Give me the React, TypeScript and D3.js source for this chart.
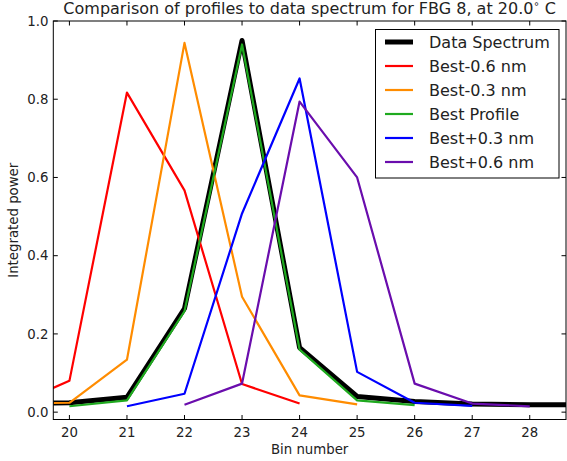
import React from "react";
import * as d3 from "d3";

const bins = [19, 20, 21, 22, 23, 24, 25, 26, 27, 28, 29];
const dataSpectrum = [0.022, 0.024, 0.038, 0.265, 0.95, 0.165, 0.04, 0.027, 0.021, 0.019, 0.019];

const bestMinus06X = [19, 20, 21, 22, 23, 24];
const bestMinus06 = [0.016, 0.08, 0.817, 0.567, 0.072, 0.022];

const bestMinus03X = [19, 20, 21, 22, 23, 24, 25];
const bestMinus03 = [0.022, 0.024, 0.134, 0.944, 0.295, 0.043, 0.02];

const bestProfileX = [20, 21, 22, 23, 24, 25, 26];
const bestProfile = [0.015, 0.03, 0.258, 0.94, 0.16, 0.03, 0.018];

const bestPlus03X = [21, 22, 23, 24, 25, 26, 27];
const bestPlus03 = [0.015, 0.047, 0.508, 0.853, 0.103, 0.024, 0.016];

const bestPlus06X = [22, 23, 24, 25, 26, 27, 28];
const bestPlus06 = [0.019, 0.073, 0.794, 0.6, 0.073, 0.022, 0.015];

const xTicks = [20, 21, 22, 23, 24, 25, 26, 27, 28];
const yTicks = [0.0, 0.2, 0.4, 0.6, 0.8, 1.0];

const legendLabels = ["Data Spectrum", "Best-0.6 nm", "Best-0.3 nm", "Best Profile", "Best+0.3 nm", "Best+0.6 nm"];

const W = 567;
const H = 461;
const FONT = "DejaVu Sans, sans-serif";

export default function App() {
  const left = 53.3, right = 566, top = 21, bottom = 419.5;
  const x = d3.scaleLinear().domain([19.72, 28.63]).range([left, right]);
  const y = d3.scaleLinear().domain([-0.0188, 1.0]).range([bottom, top]);

  const series = [
    { xs: bins, ys: dataSpectrum, color: "#000000", width: 5 },
    { xs: bestMinus06X, ys: bestMinus06, color: "#ff0000", width: 2.2 },
    { xs: bestMinus03X, ys: bestMinus03, color: "#ff8c00", width: 2.2 },
    { xs: bestProfileX, ys: bestProfile, color: "#1faa1f", width: 2.2 },
    { xs: bestPlus03X, ys: bestPlus03, color: "#0000ff", width: 2.2 },
    { xs: bestPlus06X, ys: bestPlus06, color: "#6a0dad", width: 2.2 },
  ];

  const line = d3
    .line<[number, number]>()
    .x((d) => x(d[0]))
    .y((d) => y(d[1]));

  const tickLen = 4.5;
  const legX = 375.5, legY = 29.5, legW = 183.5, legH = 148.5;

  return (
    <svg
      width={W}
      height={H}
      style={{ position: "absolute", left: 0, top: 0, background: "#fff" }}
      fontFamily={FONT}
    >
      <defs>
        <clipPath id="plotclip">
          <rect x={left} y={top} width={right - left} height={bottom - top} />
        </clipPath>
      </defs>
      <rect x={0} y={0} width={W} height={H} fill="#fff" />
      <g clipPath="url(#plotclip)">
        {series.map((s, i) => (
          <path
            key={i}
            d={line(s.xs.map((v, j) => [v, s.ys[j]] as [number, number])) || ""}
            fill="none"
            stroke={s.color}
            strokeWidth={s.width}
            strokeLinejoin="round"
          />
        ))}
      </g>
      {/* ticks */}
      {xTicks.map((t) => (
        <g key={"x" + t}>
          <line x1={x(t)} x2={x(t)} y1={bottom} y2={bottom - tickLen} stroke="#000" strokeWidth={1} />
          <line x1={x(t)} x2={x(t)} y1={top} y2={top + tickLen} stroke="#000" strokeWidth={1} />
          <text x={x(t)} y={436.5} textAnchor="middle" fontSize={13.3} fill="#222">
            {t}
          </text>
        </g>
      ))}
      {yTicks.map((t) => (
        <g key={"y" + t}>
          <line x1={left} x2={left + tickLen} y1={y(t)} y2={y(t)} stroke="#000" strokeWidth={1} />
          <line x1={right} x2={right - tickLen} y1={y(t)} y2={y(t)} stroke="#000" strokeWidth={1} />
          <text x={48.5} y={y(t) + 4.8} textAnchor="end" fontSize={13.3} fill="#222">
            {t.toFixed(1)}
          </text>
        </g>
      ))}
      <rect x={left} y={top} width={right - left} height={bottom - top} fill="none" stroke="#000" strokeWidth={1} />
      {/* title */}
      <text x={(left + right) / 2} y={14} textAnchor="middle" fontSize={16} fill="#222">
        Comparison of profiles to data spectrum for FBG 8, at 20.0
        <tspan fontSize={10} dy={-7}>∘</tspan>
        <tspan dy={7}> C</tspan>
      </text>
      <text x={(left + right) / 2} y={454} textAnchor="middle" fontSize={13.3} fill="#222">
        Bin number
      </text>
      <text
        transform={`translate(18, ${(top + bottom) / 2}) rotate(-90)`}
        textAnchor="middle"
        fontSize={13.3}
        fill="#222"
      >
        Integrated power
      </text>
      {/* legend */}
      <rect x={legX} y={legY} width={legW} height={legH} fill="#fff" stroke="#000" strokeWidth={1} />
      {series.map((s, i) => {
        const ly = 42 + i * 24;
        return (
          <g key={"leg" + i}>
            <line x1={385} x2={413} y1={ly} y2={ly} stroke={s.color} strokeWidth={s.width} />
            <text x={429} y={ly + 5.8} fontSize={16} fill="#222">
              {legendLabels[i]}
            </text>
          </g>
        );
      })}
    </svg>
  );
}
